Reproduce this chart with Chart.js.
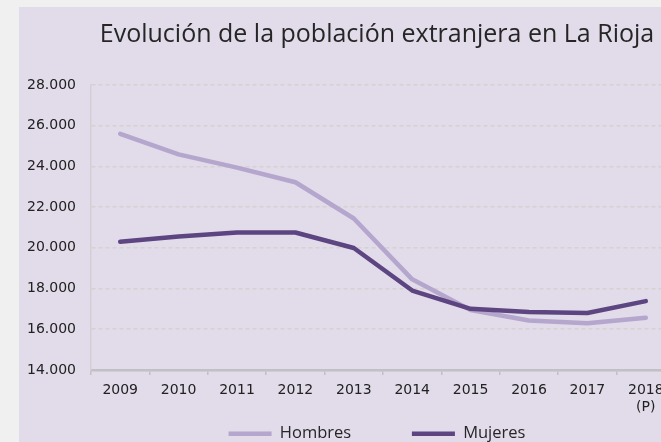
<!DOCTYPE html>
<html>
<head>
<meta charset="utf-8">
<script src="https://cdn.jsdelivr.net/npm/chart.js@4"></script>
<style>
  html, body { margin: 0; padding: 0; background: #f0f0f0; overflow: hidden; width: 661px; height: 442px; }
  #panel { position: absolute; left: 19px; top: 7px; width: 716px; height: 445px; background: #e1dbea; }
</style>
</head>
<body>
<div id="panel"><canvas id="chart" width="716" height="445"></canvas></div>
<script>
const years = ["2009", "2010", "2011", "2012", "2013", "2014", "2015", "2016", "2017", ["2018", "(P)"]];
const hombres = [25600, 24590, 23940, 23220, 21440, 18450, 16940, 16430, 16290, 16560];
const mujeres = [20300, 20560, 20750, 20750, 19990, 17900, 17000, 16840, 16800, 17380];
const titleText = "Evolución de la población extranjera en La Rioja";
const yMin = 14000;
const yMax = 28000;
const yStep = 2000;

const lightColor = "#b4a6cd";
const darkColor = "#5d4581";

function fmt(v) {
  return String(v).replace(/\B(?=(\d{3})+(?!\d))/g, ".");
}

let chart = new Chart(document.getElementById("chart"), {
  type: "line",
  data: {
    labels: years,
    datasets: [
      {
        label: "Hombres",
        data: hombres,
        borderColor: lightColor,
        backgroundColor: lightColor,
        borderWidth: 4.5,
        borderCapStyle: "round",
        borderJoinStyle: "round",
        pointRadius: 0,
        tension: 0,
        order: 1,
      },
      {
        label: "Mujeres",
        data: mujeres,
        borderColor: darkColor,
        backgroundColor: darkColor,
        borderWidth: 4.5,
        borderCapStyle: "round",
        borderJoinStyle: "round",
        pointRadius: 0,
        tension: 0,
        order: 0,
      },
    ],
  },
  options: {
    responsive: false,
    animation: false,
    layout: { padding: 0 },
    plugins: {
      tooltip: { enabled: false },
      title: {
        display: true,
        text: titleText,
        color: "#262626",
        font: { family: "Open Sans", size: 25, weight: 500 },
        padding: { top: 13, bottom: 35 },
      },
      legend: {
        position: "bottom",
        labels: {
          usePointStyle: true,
          pointStyle: "line",
          pointStyleWidth: 43,
          color: "#262626",
          font: { family: "Open Sans", size: 16.5 },
          padding: 3,
          generateLabels: (c) => {
            let items = Chart.defaults.plugins.legend.labels.generateLabels(c);
            items.sort((a, b) => a.datasetIndex - b.datasetIndex);
            items.forEach((it, i) => {
              it.pointStyle = "line";
              if (i < items.length - 1) it.text = it.text + "\u2003\u2003\u2003\u2002";
            });
            return items;
          },
        },
      },
    },
    scales: {
      x: {
        offset: true,
        grid: {
          offset: true,
          drawOnChartArea: false,
          drawTicks: true,
          tickLength: 5,
          color: "#c2c0c4",
          lineWidth: 1.5,
        },
        border: { display: true, color: "#c2c0c4", width: 2.5 },
        ticks: {
          color: "#222",
          font: { family: "DejaVu Sans", size: 14 },
          padding: 7,
          maxRotation: 0,
          autoSkip: false,
        },
      },
      y: {
        min: yMin,
        max: yMax,
        afterFit: (scale) => {
          scale.width = 72;
        },
        grid: {
          drawTicks: false,
          color: (ctx) => (ctx.tick && ctx.tick.value === yMin ? "rgba(0,0,0,0)" : "#d6d2cf"),
          lineWidth: 1.5,
        },
        border: { display: true, color: "#d3d0d3", width: 1.5, dash: [4, 3] },
        ticks: {
          stepSize: yStep,
          color: "#222",
          font: { family: "DejaVu Sans", size: 14 },
          padding: 15,
          callback: (v) => fmt(v),
        },
      },
      // empty right-hand axis, keeps room on the right like the original
      yRight: {
        position: "right",
        display: true,
        min: yMin,
        max: yMax,
        afterFit: (scale) => {
          scale.width = 60;
        },
        grid: { display: false },
        border: { display: false },
        ticks: { display: false },
      },
    },
  },
});
</script>
</body>
</html>
